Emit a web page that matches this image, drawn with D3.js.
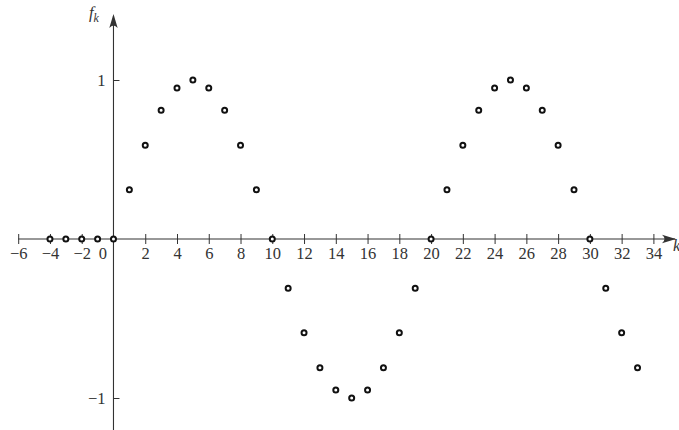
<!DOCTYPE html>
<html>
<head>
<meta charset="utf-8">
<script src="https://cdn.jsdelivr.net/npm/d3@7"></script>
<style>
  body { margin: 0; background: #fff; }
  svg { display: block; }
</style>
</head>
<body>
<svg width="679" height="430"></svg>
<script>
  // samples f_k
  const ks = [-4, -3, -2, -1, 0, 1, 2, 3, 4, 5, 6, 7, 8, 9, 10, 11, 12, 13, 14, 15, 16,
    17, 18, 19, 20, 21, 22, 23, 24, 25, 26, 27, 28, 29, 30, 31, 32, 33];
  const fk = [0, 0, 0, 0, 0, 0.31, 0.59, 0.81, 0.95, 1, 0.95, 0.81, 0.59, 0.31, 0,
    -0.31, -0.59, -0.81, -0.95, -1, -0.95, -0.81, -0.59, -0.31, 0,
    0.31, 0.59, 0.81, 0.95, 1, 0.95, 0.81, 0.59, 0.31, 0, -0.31, -0.59, -0.81];

  const xTicks = [-6, -4, -2, 0, 2, 4, 6, 8, 10, 12, 14, 16, 18, 20, 22, 24, 26, 28, 30, 32, 34];
  const yTicks = [-1, 1];

  const data = ks.map((k, i) => ({ k, f: fk[i] }));

  const svg = d3.select('svg');

  const x = d3.scaleLinear().domain([-6, 34]).range([18.2, 653.4]);
  const y = d3.scaleLinear().domain([-1, 1]).range([398, 80]);

  const axisColor = '#333';
  const serif = '"Liberation Serif", "DejaVu Serif", serif';
  const fontSize = '16.5px';
  const textColor = '#333';

  // arrowhead shape (tip at origin, pointing right)
  const arrowPath = 'M0,0 L-14,-4.2 Q-9,0 -14,4.2 Z';

  const minusFmt = d => d < 0 ? '\u2212' + Math.abs(d) : d;

  // x axis
  const xAxisG = svg.append('g')
    .attr('transform', `translate(0,${y(0)})`)
    .call(d3.axisBottom(x)
      .tickValues(xTicks)
      .tickSize(5)
      .tickPadding(3)
      .tickFormat(minusFmt));
  xAxisG.attr('font-family', null).attr('font-size', null);
  xAxisG.select('.domain').remove();
  xAxisG.selectAll('.tick line')
    .attr('y1', -5)
    .attr('stroke', axisColor)
    .attr('stroke-width', 1);
  xAxisG.selectAll('.tick text')
    .style('font-family', serif)
    .style('font-size', fontSize)
    .style('fill', textColor)
    .attr('x', d => d === 0 ? -11 : 0);
  xAxisG.selectAll('.tick').filter(d => d === 0).select('line').remove();

  svg.append('line')
    .attr('x1', x(-6)).attr('x2', 675)
    .attr('y1', y(0)).attr('y2', y(0))
    .attr('stroke', axisColor).attr('stroke-width', 1.1);
  svg.append('path')
    .attr('d', arrowPath)
    .attr('transform', `translate(676,${y(0)})`)
    .attr('fill', axisColor);

  svg.append('text')
    .attr('x', 673)
    .attr('y', y(0) + 12)
    .style('font-family', serif)
    .style('font-size', fontSize)
    .style('font-style', 'italic')
    .style('fill', textColor)
    .text('k');

  // y axis
  const yAxisG = svg.append('g')
    .attr('transform', `translate(${x(0)},0)`)
    .call(d3.axisLeft(y)
      .tickValues(yTicks)
      .tickSize(6)
      .tickPadding(2)
      .tickFormat(minusFmt));
  yAxisG.attr('font-family', null).attr('font-size', null);
  yAxisG.select('.domain').remove();
  yAxisG.selectAll('.tick line')
    .attr('x2', 6)
    .attr('stroke', axisColor)
    .attr('stroke-width', 1);
  yAxisG.selectAll('.tick text')
    .style('font-family', serif)
    .style('font-size', fontSize)
    .style('fill', textColor);

  svg.append('line')
    .attr('x1', x(0)).attr('x2', x(0))
    .attr('y1', 430).attr('y2', 16)
    .attr('stroke', axisColor).attr('stroke-width', 1.1);
  svg.append('path')
    .attr('d', arrowPath)
    .attr('transform', `translate(${x(0)},14) rotate(-90)`)
    .attr('fill', axisColor);

  const fLabel = svg.append('text')
    .attr('x', 89)
    .attr('y', 18)
    .style('font-family', serif)
    .style('font-size', fontSize)
    .style('font-style', 'italic')
    .style('fill', textColor);
  fLabel.append('tspan').text('f');
  fLabel.append('tspan')
    .attr('dy', 4)
    .style('font-size', '12px')
    .text('k');

  // samples
  svg.append('g')
    .selectAll('circle')
    .data(data)
    .join('circle')
      .attr('cx', d => x(d.k))
      .attr('cy', d => y(d.f))
      .attr('r', 2.5)
      .attr('fill', '#fff')
      .attr('stroke', '#111')
      .attr('stroke-width', 2);
</script>
</body>
</html>
